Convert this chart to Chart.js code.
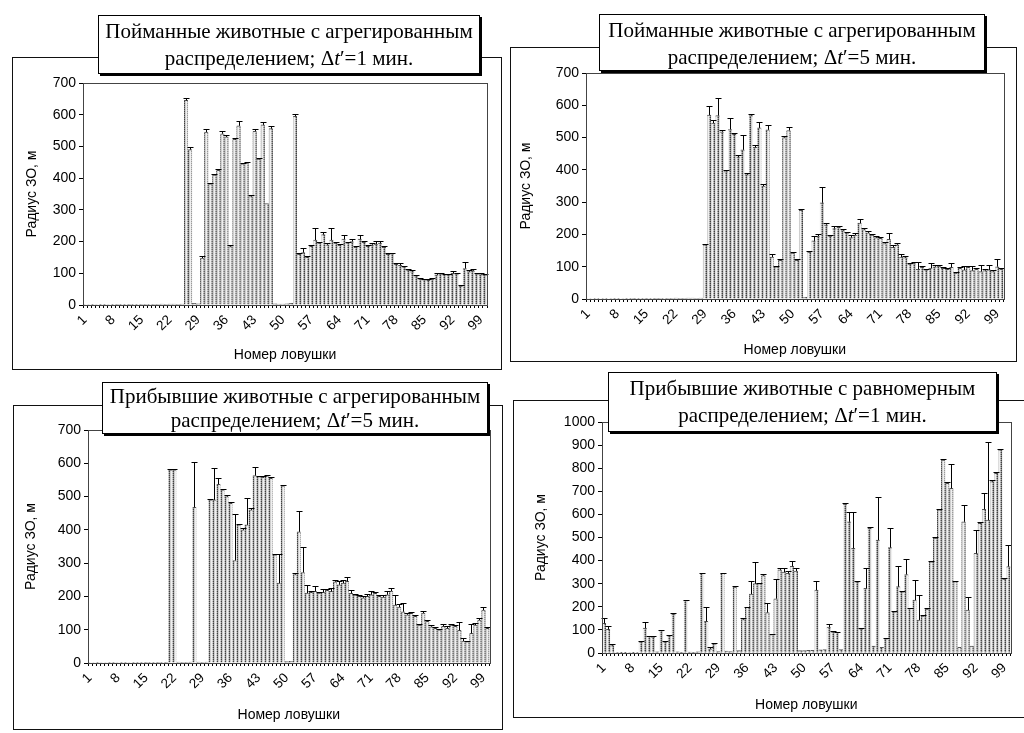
<!DOCTYPE html>
<html>
<head>
<meta charset="utf-8">
<script src="https://cdn.jsdelivr.net/npm/chart.js@4.4.1/dist/chart.umd.min.js"></script>
<style>
  body { margin: 0; width: 1024px; height: 733px; overflow: hidden; position: relative; background: #fff; }
  .panel { position: absolute; }
  .frame { position: absolute; border: 1px solid #111; box-sizing: border-box; pointer-events: none; }
  .title {
    position: absolute; background: #fff; border: 1.5px solid #000; box-shadow: 2px 2px 0 #000;
    font-family: "Liberation Serif", "Times New Roman", serif; font-size: 21px; line-height: 27px;
    text-align: center; color: #000; box-sizing: border-box; padding-top: 2px; white-space: nowrap;
  }
</style>
</head>
<body>
<div class="panel" style="left:12px;top:57px;width:490px;height:313px"><canvas id="c1"></canvas></div>
<div class="panel" style="left:510px;top:47px;width:507px;height:315px"><canvas id="c2"></canvas></div>
<div class="panel" style="left:13px;top:405px;width:490px;height:325px"><canvas id="c3"></canvas></div>
<div class="panel" style="left:513px;top:400px;width:511px;height:318px"><canvas id="c4"></canvas></div>

<div class="frame" style="left:12px;top:57px;width:490px;height:313px"></div>
<div class="frame" style="left:510px;top:47px;width:507px;height:315px"></div>
<div class="frame" style="left:13px;top:405px;width:490px;height:325px"></div>
<div class="frame" style="left:513px;top:400px;width:515px;height:318px"></div>

<div class="title" style="left:98px;top:15px;width:382px;height:59px">Пойманные животные с агрегированным<br>распределением; Δ<i>t</i>′=1 мин.</div>
<div class="title" style="left:599px;top:14px;width:386px;height:57px">Пойманные животные с агрегированным<br>распределением; Δ<i>t</i>′=5 мин.</div>
<div class="title" style="left:102px;top:382px;width:386px;height:52px;line-height:24px;padding-top:1px">Прибывшие животные с агрегированным<br>распределением; Δ<i>t</i>′=5 мин.</div>
<div class="title" style="left:608px;top:372px;width:389px;height:60px">Прибывшие животные с равномерным<br>распределением; Δ<i>t</i>′=1 мин.</div>

<script>
// Trap numbers along the x axis, and the ones that carry a label
const categories = Array.from({ length: 100 }, (_, i) => String(i + 1));
const tickLabels = ['1', '8', '15', '22', '29', '36', '43', '50', '57', '64', '71', '78', '85', '92', '99'];

// Caught animals, aggregated distribution, Δt = 1 min
const caught1Values = [
  0, 0, 1, 0, 1, 1, 0, 1, 2, 1, 1, 2, 1, 1, 2, 2, 1, 2, 2, 3, 2, 3, 3, 2, 3,
  645, 490, 5, 4, 148,
  545, 382, 410, 425, 540, 530, 184, 522, 565, 445,
  448, 342, 548, 460, 568, 320, 556, 4, 3, 3,
  4, 5, 595, 160, 165, 150, 185, 205, 195, 222,
  190, 205, 195, 188, 208, 196, 200, 182, 208, 198,
  185, 190, 192, 195, 182, 160, 162, 128, 125, 120,
  110, 105, 90, 82, 80, 78, 82, 95, 98, 96,
  95, 100, 98, 60, 115, 105, 108, 98, 96, 95
];
const caught1Errors = [
  0, 0, 0, 0, 0, 0, 0, 0, 0, 0, 0, 0, 0, 0, 0, 0, 0, 0, 0, 0, 0, 0, 0, 0, 0,
  8, 8, 0, 0, 5,
  10, 3, 4, 4, 10, 6, 4, 6, 16, 4,
  4, 4, 6, 4, 8, 0, 8, 0, 0, 0,
  0, 0, 8, 3, 15, 4, 5, 37, 4, 9,
  4, 37, 5, 4, 13, 4, 8, 4, 13, 4,
  5, 4, 11, 8, 4, 4, 3, 4, 7, 4,
  4, 4, 4, 3, 3, 3, 3, 7, 3, 3,
  3, 7, 3, 3, 22, 5, 4, 3, 4, 4
];

// Caught animals, aggregated distribution, Δt = 5 min
const caught5Values = [
  0, 0, 1, 0, 1, 0, 1, 1, 0, 1, 1, 2, 1, 1, 2, 1, 2, 2, 1, 2, 2, 3, 2, 2, 3, 3, 2, 3,
  168, 570, 545, 568, 518, 395, 525, 510, 440, 462, 385, 568,
  470, 530, 350, 524, 130, 100, 120, 500, 522, 142,
  120, 275, 5, 145, 180, 195, 298, 230, 195, 218,
  222, 212, 205, 190, 198, 235, 215, 205, 198, 190,
  188, 172, 185, 160, 168, 130, 128, 108, 110, 92,
  98, 90, 96, 100, 102, 95, 92, 98, 80, 95,
  90, 98, 88, 92, 85, 88, 90, 85, 100, 92
];
const caught5Errors = [
  0, 0, 0, 0, 0, 0, 0, 0, 0, 0, 0, 0, 0, 0, 0, 0, 0, 0, 0, 0, 0, 0, 0, 0, 0, 0, 0, 0,
  2, 28, 10, 55, 4, 5, 35, 5, 5, 45, 4, 6,
  8, 18, 5, 16, 8, 3, 4, 5, 10, 3,
  4, 4, 0, 4, 15, 5, 48, 6, 4, 8,
  4, 5, 4, 8, 6, 12, 5, 5, 4, 5,
  4, 5, 20, 8, 5, 10, 4, 5, 4, 22,
  4, 4, 15, 4, 4, 5, 4, 12, 3, 5,
  12, 4, 15, 4, 20, 4, 15, 4, 25, 5
];

// Arrived animals, aggregated distribution, Δt = 5 min
const arrived5Values = [
  0, 0, 1, 0, 0, 1, 1, 0, 1, 1, 0, 1, 1, 1, 2, 1, 1, 2, 1, 2,
  580, 580, 3, 2, 2, 3, 468, 3, 2, 3,
  490, 490, 537, 520, 500, 480, 308, 415, 400, 415,
  460, 563, 560, 558, 562, 555, 325, 240, 532, 4,
  5, 266, 394, 272, 210, 212, 215, 210, 212, 218,
  215, 244, 235, 240, 245, 209, 204, 200, 196, 200,
  205, 209, 200, 198, 205, 216, 174, 168, 154, 145,
  149, 140, 114, 150, 125, 109, 104, 100, 110, 104,
  114, 110, 98, 66, 64, 89, 114, 129, 159, 104
];
const arrived5Errors = [
  0, 0, 0, 0, 0, 0, 0, 0, 0, 0, 0, 0, 0, 0, 0, 0, 0, 0, 0, 0,
  3, 3, 0, 0, 0, 0, 137, 0, 0, 0,
  2, 95, 18, 4, 4, 4, 140, 3, 5, 80,
  5, 25, 3, 3, 3, 3, 3, 87, 3, 0,
  0, 3, 62, 78, 25, 3, 15, 3, 10, 5,
  10, 5, 10, 8, 12, 10, 3, 3, 5, 8,
  10, 5, 3, 5, 10, 8, 30, 10, 25, 5,
  3, 5, 3, 5, 5, 5, 5, 3, 8, 8,
  3, 3, 25, 10, 3, 27, 5, 7, 10, 5
];

// Arrived animals, uniform distribution, Δt = 1 min
const uniform1Values = [
  128, 102, 32, 2, 1, 1, 0, 1, 2, 48,
  108, 72, 70, 5, 98, 48, 75, 168, 5, 3,
  228, 4, 3, 5, 345, 137, 18, 40, 6, 345,
  8, 6, 285, 10, 145, 198, 255, 300, 300, 335,
  175, 80, 235, 360, 350, 345, 375, 355, 10, 10,
  12, 12, 272, 14, 15, 112, 92, 90, 15, 645,
  568, 453, 308, 105, 280, 540, 30, 489, 25, 62,
  456, 178, 287, 265, 340, 193, 229, 143, 160, 190,
  395, 497, 620, 835, 735, 713, 309, 25, 568, 186,
  30, 431, 561, 622, 575, 742, 778, 880, 320, 374
];
const uniform1Errors = [
  22, 15, 5, 0, 0, 0, 0, 0, 0, 3,
  28, 2, 3, 0, 3, 3, 3, 3, 0, 0,
  3, 0, 0, 0, 3, 63, 10, 5, 0, 3,
  0, 0, 3, 0, 5, 3, 55, 95, 5, 5,
  42, 3, 85, 8, 20, 10, 22, 15, 0, 0,
  0, 0, 40, 0, 0, 15, 3, 3, 0, 5,
  44, 158, 5, 5, 87, 5, 0, 188, 0, 5,
  84, 3, 90, 3, 66, 3, 87, 108, 3, 3,
  3, 5, 5, 3, 7, 104, 3, 0, 73, 58,
  0, 100, 5, 69, 340, 5, 5, 5, 5, 93
];

const axisTitle = 'Радиус ЗО, м';
const xTitle = 'Номер ловушки';

// Dotted grey fill for the bars
function barFill() {
  const c = document.createElement('canvas');
  c.width = 4; c.height = 4;
  const g = c.getContext('2d');
  g.fillStyle = '#cfcfcf'; g.fillRect(0, 0, 4, 4);
  g.fillStyle = '#efefef'; g.fillRect(2, 0, 1, 4);
  g.fillStyle = '#404040'; g.fillRect(0, 0, 1, 1); g.fillRect(0, 2, 1, 1);
  g.fillStyle = '#8a8a8a'; g.fillRect(0, 1, 1, 1); g.fillRect(0, 3, 1, 1);
  g.fillStyle = '#9a9a9a'; g.fillRect(3, 0, 1, 1); g.fillRect(3, 2, 1, 1);
  return g.createPattern(c, 'repeat');
}

// Upper error bars with caps, placed through the chart's own scales
const errorBars = {
  id: 'errorBars',
  afterDatasetsDraw(chart, args, opts) {
    const errs = opts.errors;
    if (!errs) return;
    const meta = chart.getDatasetMeta(0);
    const ys = chart.scales.y;
    const vals = chart.data.datasets[0].data;
    const ctx = chart.ctx;
    ctx.save();
    ctx.strokeStyle = '#000';
    ctx.lineWidth = 1;
    meta.data.forEach((bar, i) => {
      const e = errs[i];
      if (!e) return;
      const x = Math.round(bar.x) + 0.5;
      const y0 = ys.getPixelForValue(vals[i]);
      const y1 = Math.round(ys.getPixelForValue(vals[i] + e)) + 0.5;
      ctx.beginPath();
      ctx.moveTo(x, y0); ctx.lineTo(x, y1);
      ctx.moveTo(x - 3, y1); ctx.lineTo(x + 3, y1);
      ctx.stroke();
    });
    ctx.restore();
  }
};

// Thin box around the plot area
const plotFrame = {
  id: 'plotFrame',
  afterDraw(chart) {
    const a = chart.chartArea, ctx = chart.ctx;
    ctx.save();
    ctx.strokeStyle = '#444';
    ctx.lineWidth = 1;
    ctx.strokeRect(Math.round(a.left) + 0.5, Math.round(a.top) + 0.5,
      Math.round(a.right - a.left), Math.round(a.bottom - a.top));
    ctx.restore();
  }
};

const tickFont = { family: '"Liberation Sans", Arial, sans-serif', size: 14 };
const xTickFont = { family: '"Liberation Sans", Arial, sans-serif', size: 13.5 };
const titleFont = { family: '"Liberation Sans", Arial, sans-serif', size: 14 };

function drawPanel(id, values, errors, yMax, geo) {
  new Chart(document.getElementById(id), {
    type: 'bar',
    data: {
      labels: categories,
      datasets: [{
        data: values,
        backgroundColor: barFill(),
        borderColor: '#555',
        borderWidth: { top: 1, left: 0, right: 0, bottom: 0 },
        borderSkipped: 'start',
        barPercentage: 1,
        categoryPercentage: 1
      }]
    },
    options: {
      responsive: true,
      maintainAspectRatio: false,
      animation: false,
      events: [],
      layout: { padding: { left: 0, top: geo.top, right: geo.right, bottom: 0 } },
      plugins: {
        legend: { display: false },
        tooltip: { enabled: false },
        errorBars: { errors: errors }
      },
      scales: {
        x: {
          grid: { display: true, drawOnChartArea: false, drawTicks: true, tickLength: 3, color: '#000' },
          border: { display: true, color: '#000', width: 1 },
          ticks: {
            autoSkip: false, maxRotation: 45, minRotation: 45, padding: 4,
            color: '#000', font: xTickFont,
            callback: (v, i) => tickLabels.includes(categories[i]) ? categories[i] : ''
          },
          title: {
            display: true, text: xTitle, color: '#000', font: titleFont,
            padding: { top: 0, bottom: geo.xTitlePad }
          },
          afterFit: s => { s.height = geo.xHeight; }
        },
        y: {
          min: 0, max: yMax,
          grid: { display: true, drawOnChartArea: false, drawTicks: true, tickLength: 4, color: '#000' },
          border: { display: true, color: '#000', width: 1 },
          ticks: { stepSize: 100, color: '#000', font: tickFont, padding: 3, callback: v => String(v) },
          title: {
            display: true, text: axisTitle, color: '#000', font: titleFont,
            padding: { top: geo.yTitlePad, bottom: 0 }
          },
          afterFit: s => { s.width = geo.yWidth; }
        }
      }
    },
    plugins: [errorBars, plotFrame]
  });
}

drawPanel('c1', caught1Values, caught1Errors, 700,
  { top: 26, right: 15, yWidth: 71, xHeight: 65, xTitlePad: 6.5, yTitlePad: 12 });
drawPanel('c2', caught5Values, caught5Errors, 700,
  { top: 26, right: 10, yWidth: 76, xHeight: 63, xTitlePad: 3.5, yTitlePad: 8 });
drawPanel('c3', arrived5Values, arrived5Errors, 700,
  { top: 25, right: 10, yWidth: 75, xHeight: 67, xTitlePad: 6.5, yTitlePad: 10 });
drawPanel('c4', uniform1Values, uniform1Errors, 1000,
  { top: 22, right: 11, yWidth: 89, xHeight: 65, xTitlePad: 4.5, yTitlePad: 20 });
</script>
</body>
</html>
